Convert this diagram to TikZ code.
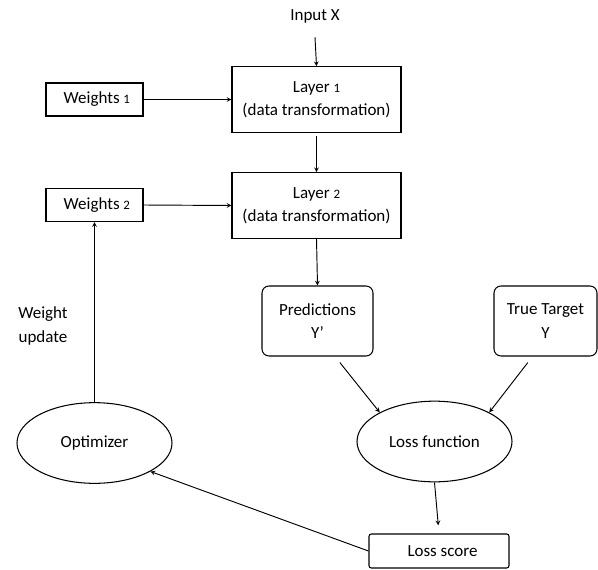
\documentclass[tikz,border=0pt]{standalone}
\usepackage{fontspec}
\setmainfont{Carlito}
\usepackage{tikz}
\usetikzlibrary{arrows,shapes.geometric,calc}

\newcommand{\idx}[1]{{\fontsize{11}{11}\selectfont #1}}

\begin{document}
\begin{tikzpicture}[x=0.03cm, y=-0.03cm,
            >=stealth,
            every node/.style = {font=\fontsize{14.5}{20}\selectfont, align=center, line width=0.9pt},
            layerbox/.style = {draw, rectangle, minimum width=5.07cm, minimum height=1.97cm},
            weightbox/.style = {draw, rectangle, minimum width=2.91cm, minimum height=0.99cm},
            outbox/.style = {draw, rectangle, rounded corners=6pt, minimum height=2.1cm},
            oval/.style = {draw, ellipse, minimum width=4.65cm, minimum height=2.42cm},
            flow/.style = {->, line width=0.8pt}
            ]
            \useasboundingbox (0,0) rectangle (598,569);

            \node (input) at (315,16) {Input X};
            \node[layerbox] (layer1) at (316.5,99.5) {Layer \idx{1}\\(data transformation)};
            \node[layerbox] (layer2) at (316.5,205.5) {Layer \idx{2}\\(data transformation)};
            \node[weightbox] (weights1) at (94.5,99.5) {\hspace{4pt}Weights \idx{1}};
            \node[weightbox] (weights2) at (94.5,205) {\hspace{4pt}Weights \idx{2}};
            \node[outbox, minimum width=3.33cm] (pred) at (317.5,321) {Predictions\\Y’};
            \node[outbox, minimum width=3.09cm] (target) at (545.5,321) {True Target\\Y};
            \node[oval] (optim) at (94.5,443) {Optimizer};
            \node[oval] (lossfn) at (434.5,441.5) {Loss function};
            \node[draw, rectangle, rounded corners=2pt, minimum width=4.2cm, minimum height=1.02cm] (score) at (439,551) {\hspace{6pt}Loss score};
            \node (update) at (43,326) {Weight\\update};

            \draw[flow] ([yshift=-0.3cm]input.south) -- (layer1.north);
            \draw[flow] (weights1.east) -- (layer1.west);
            \draw[flow, shorten <=3pt] (layer1.south) -- (layer2.north);
            \draw[flow] (weights2.east) -- (layer2.west);
            \draw[flow] (layer2.south) -- (pred.north);
            \draw[flow] ([xshift=0.67cm,yshift=-0.18cm]pred.south) -- (lossfn.152);
            \draw[flow] ([xshift=-0.53cm,yshift=-0.18cm]target.south) -- (lossfn.28);
            \draw[flow, shorten >=7pt] (lossfn.south) -- (score.north);
            \draw[flow] (score.west) -- (optim.333);
            \draw[flow] (optim.north) -- (weights2.south);
\end{tikzpicture}
\end{document}
